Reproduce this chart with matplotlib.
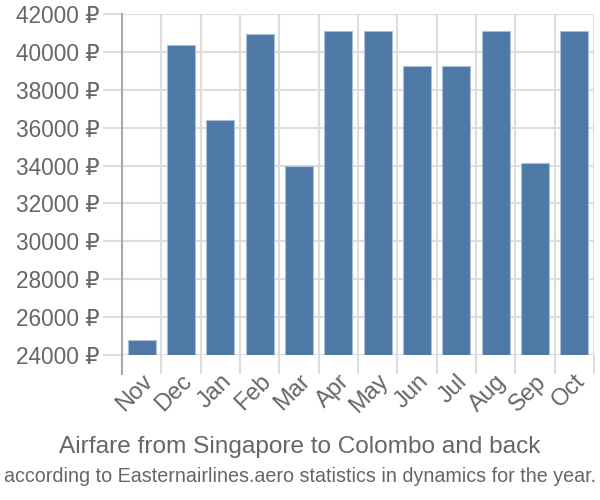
import numpy as np
import matplotlib.pyplot as plt
from matplotlib.ticker import FixedLocator

months = ['Nov', 'Dec', 'Jan', 'Feb', 'Mar', 'Apr', 'May', 'Jun', 'Jul', 'Aug', 'Sep', 'Oct']
prices = [24800, 40390, 36400, 40930, 33990, 41110, 41110, 39230, 39230, 41110, 34160, 41110]
yticks = [24000, 26000, 28000, 30000, 32000, 34000, 36000, 38000, 40000, 42000]

plt.rcParams['font.family'] = ['Liberation Sans', 'DejaVu Sans']
text_color = '#666666'
grid_color = '#dddddd'

fig = plt.figure(figsize=(6, 5), dpi=100)
ax = fig.add_axes([122 / 600, 145 / 500, 472 / 600, 341 / 500])

x = np.arange(len(months))
ax.bar(x, prices, width=0.71, color='#4e79a7', edgecolor='#a9bfd8', linewidth=0.8, zorder=3)

ax.set_xlim(-0.5, len(months) - 0.5)
ax.set_ylim(yticks[0], yticks[-1])

ax.set_yticks(yticks)
ax.set_yticklabels([f'{v} ₽' for v in yticks], fontsize=16.3, color=text_color)
ax.set_xticks(x)
ax.set_xticklabels(months, fontsize=17, color=text_color, rotation=45,
                   ha='right', rotation_mode='anchor')
ax.xaxis.set_minor_locator(FixedLocator(np.arange(len(months) + 1) - 0.5))

ax.tick_params(axis='x', which='major', length=0, pad=11)
ax.tick_params(axis='x', which='minor', length=14, width=1.5, color=grid_color)
ax.tick_params(axis='y', length=14, width=1.5, color=grid_color, pad=2)

ax.grid(True, axis='y', color=grid_color, linewidth=1.5, zorder=0)
ax.grid(True, axis='x', which='minor', color=grid_color, linewidth=1.5, zorder=0)

for side in ['top', 'right', 'bottom']:
    ax.spines[side].set_visible(False)
ax.spines['left'].set_color('#aaaaaa')
ax.spines['left'].set_linewidth(1.5)
ax.spines['left'].set_bounds(yticks[0] - 1000, yticks[-1])
ax.spines['left'].set_zorder(4)

fig.text(0.5, 0.106, 'Airfare from Singapore to Colombo and back',
         ha='center', va='center', fontsize=17.6, color=text_color)
fig.text(0.5, 0.046, 'according to Easternairlines.aero statistics in dynamics for the year.',
         ha='center', va='center', fontsize=14.2, color=text_color)

fig.savefig('out.png', dpi=100)
